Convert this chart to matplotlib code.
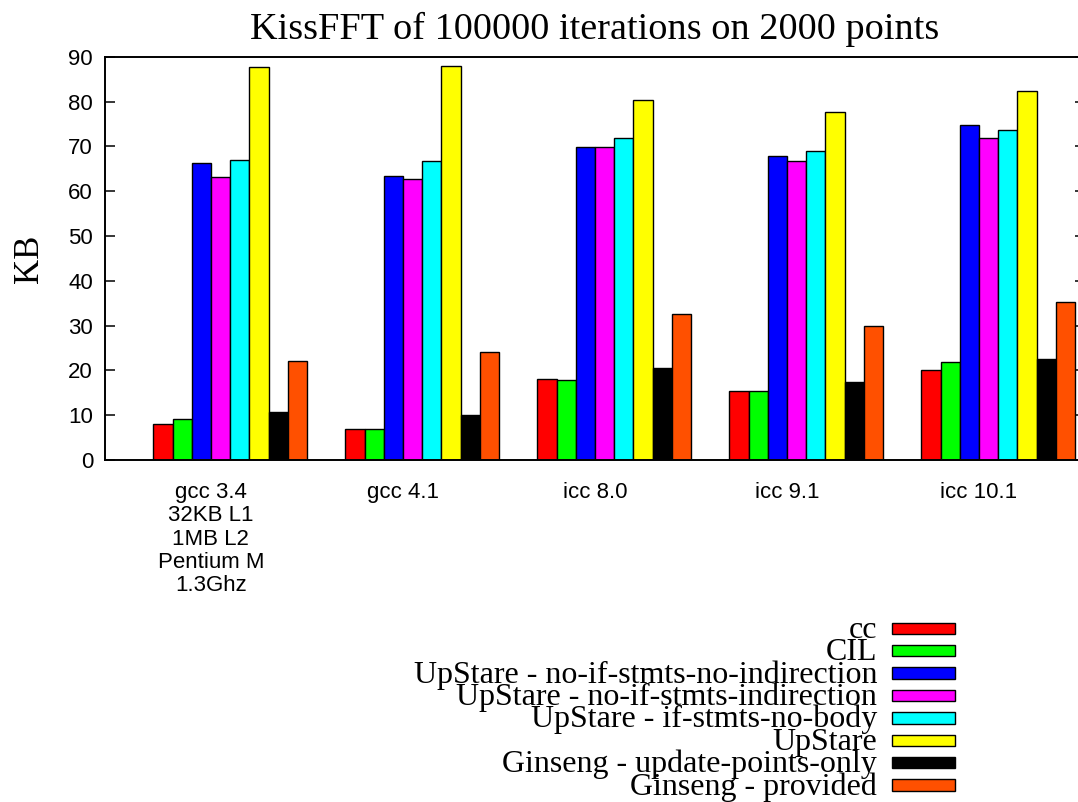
import matplotlib
matplotlib.use("Agg")
import matplotlib.pyplot as plt
from matplotlib.patches import Rectangle
import numpy as np

# KissFFT memory use, KB
compilers = ["gcc 3.4\n32KB L1\n1MB L2\nPentium M\n1.3Ghz", "gcc 4.1", "icc 8.0", "icc 9.1", "icc 10.1"]
names = ["cc", "CIL",
         "UpStare - no-if-stmts-no-indirection",
         "UpStare - no-if-stmts-indirection",
         "UpStare - if-stmts-no-body",
         "UpStare",
         "Ginseng - update-points-only",
         "Ginseng - provided"]
cc = [8.0, 6.9, 18.1, 15.5, 20.1]
cil = [9.2, 7.0, 17.8, 15.5, 21.9]
up_noif_noind = [66.3, 63.3, 69.8, 67.9, 74.8]
up_noif_ind = [63.1, 62.6, 69.8, 66.7, 71.8]
up_if_nobody = [67.0, 66.7, 71.9, 69.0, 73.6]
upstare = [87.6, 88.0, 80.3, 77.6, 82.4]
gs_update = [10.8, 10.1, 20.6, 17.4, 22.5]
gs_provided = [22.2, 24.2, 32.6, 30.0, 35.2]
colors = ["#ff0000", "#00ff00", "#0000ff", "#ff00ff", "#00ffff", "#ffff00", "#000000", "#ff5000"]

series = [cc, cil, up_noif_noind, up_noif_ind, up_if_nobody, upstare, gs_update, gs_provided]

W, H = 1078, 802
serif = ["Liberation Serif", "DejaVu Serif"]
sans = ["Liberation Sans", "DejaVu Sans"]

fig = plt.figure(figsize=(W / 100, H / 100), dpi=100)
ax = fig.add_axes([105 / W, 1 - 460 / H, 980 / W, 403.3 / H])

x = np.arange(len(compilers))
bw = 0.1
for j, vals in enumerate(series):
    ax.bar(x + (j - 3.5) * bw, vals, bw, color=colors[j], edgecolor="black", linewidth=1.0)

ax.set_xlim(-0.6516, 4.4526)
ax.set_ylim(0, 90)
ax.set_yticks(range(0, 91, 10))
ax.set_xticks(x - 0.1)
ax.set_xticklabels(compilers, family=sans, fontsize=16, linespacing=1.14)
for lab in ax.get_yticklabels():
    lab.set_family(sans)
    lab.set_fontsize(16)
ax.tick_params(axis="x", length=0, pad=16)
ax.tick_params(axis="y", direction="in", length=7.2, width=1.1, pad=8.6, right=True)
for sp in ax.spines.values():
    sp.set_linewidth(1.4)

ax.set_title("KissFFT of 100000 iterations on 2000 points", family=serif, fontsize=27.5, pad=13)
ax.set_ylabel("KB", family=serif, fontsize=25)
ax.yaxis.set_label_coords(-0.06, 0.5)

# legend, gnuplot style: text right-aligned, box on the right
for k, name in enumerate(names):
    yc = 628.3 + 22.4 * k
    fig.text(877 / W, 1 - (yc + 9.5) / H, name, ha="right", va="baseline",
             family=serif, fontsize=23)
    fig.add_artist(Rectangle((892 / W, 1 - (yc + 5.7) / H), 63 / W, 11.4 / H,
                             transform=fig.transFigure, facecolor=colors[k],
                             edgecolor="black", linewidth=1.0))

fig.savefig("out.png", dpi=100)
